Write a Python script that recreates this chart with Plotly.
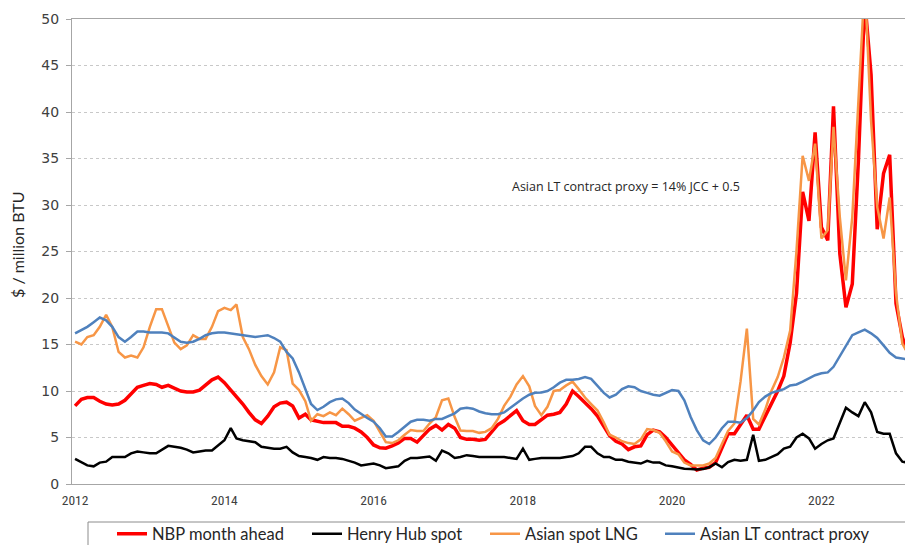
import pandas as pd
import plotly.graph_objects as go

months = pd.date_range("2012-01-01", periods=135, freq="MS")

nbp_month_ahead = [
    8.4, 9.1, 9.3, 9.3, 8.9, 8.6, 8.5, 8.6, 9.0, 9.7, 10.4, 10.6,
    10.8, 10.7, 10.4, 10.6, 10.3, 10.0, 9.9, 9.9, 10.1, 10.6, 11.2, 11.5,
    10.9, 10.1, 9.4, 8.6, 7.7, 6.9, 6.5, 7.3, 8.3, 8.7, 8.8, 8.4,
    7.1, 7.5, 6.9, 6.7, 6.6, 6.6, 6.6, 6.2, 6.2, 6.0, 5.6, 5.0,
    4.2, 3.9, 3.85, 4.1, 4.4, 4.9, 4.9, 4.5, 5.2, 5.9, 6.3, 5.8,
    6.4, 6.0, 5.0, 4.8, 4.8, 4.7, 4.8, 5.6, 6.4, 6.8, 7.3, 7.9,
    6.8, 6.4, 6.4, 6.9, 7.4, 7.5, 7.7, 8.6, 10.0, 9.4, 8.8, 8.1,
    7.3, 6.1, 5.2, 4.6, 4.3, 3.7, 4.0, 4.1, 5.3, 5.8, 5.6, 5.0,
    4.2, 3.3, 2.6, 2.1, 1.5, 1.7, 1.8, 2.3, 3.8, 5.4, 5.4, 6.4,
    7.4, 5.9, 5.9, 7.3, 8.6, 10.0, 11.6, 15.2, 20.5, 31.4, 28.3, 37.8,
    27.6, 26.2, 40.6, 24.75, 19.0, 21.5, 34.8, 52.0, 44.0, 27.4, 33.4, 35.4,
    19.4, 15.8, 14.0,
]

henry_hub_spot = [
    2.7, 2.3, 2.0, 1.9, 2.3, 2.4, 2.9, 2.9, 2.9, 3.3, 3.5, 3.4,
    3.3, 3.3, 3.7, 4.1, 4.0, 3.9, 3.7, 3.4, 3.5, 3.6, 3.6, 4.1,
    4.7, 6.0, 4.9, 4.7, 4.6, 4.5, 4.0, 3.9, 3.8, 3.8, 4.0, 3.4,
    3.0, 2.9, 2.8, 2.6, 2.9, 2.8, 2.8, 2.7, 2.5, 2.3, 2.0, 2.1,
    2.2, 2.0, 1.7, 1.8, 1.9, 2.5, 2.8, 2.8, 2.9, 2.95, 2.5, 3.6,
    3.3, 2.8, 2.9, 3.1, 3.0, 2.9, 2.9, 2.9, 2.9, 2.9, 2.8, 2.7,
    3.8, 2.6, 2.7, 2.8, 2.8, 2.8, 2.8, 2.9, 3.0, 3.3, 4.0, 4.0,
    3.3, 2.9, 2.9, 2.6, 2.6, 2.4, 2.3, 2.2, 2.5, 2.3, 2.3, 2.0,
    1.9, 1.75, 1.65, 1.6, 1.55, 1.6, 1.8, 2.2, 1.8, 2.35, 2.6, 2.5,
    2.6, 5.3, 2.5, 2.6, 2.9, 3.2, 3.8, 4.0, 5.0, 5.4, 4.9, 3.8,
    4.3, 4.7, 4.9, 6.5, 8.2, 7.7, 7.3, 8.8, 7.7, 5.6, 5.4, 5.4,
    3.3, 2.4, 2.3,
]

asian_spot_lng = [
    15.3, 15.0, 15.8, 16.0, 16.9, 18.2, 16.9, 14.2, 13.6, 13.8, 13.6, 14.7,
    16.9, 18.8, 18.8, 16.9, 15.2, 14.5, 14.9, 16.0, 15.6, 15.6, 16.9, 18.6,
    18.95, 18.7, 19.3, 15.8, 14.5, 12.8, 11.6, 10.7, 12.0, 14.7, 14.4, 10.8,
    10.1, 8.9, 6.8, 7.5, 7.3, 7.7, 7.4, 8.1, 7.5, 6.8, 7.1, 7.4,
    6.8, 5.6, 4.5, 4.4, 4.7, 5.3, 5.8, 5.7, 5.7, 6.5, 7.2, 9.0,
    9.2, 7.2, 5.75, 5.7, 5.7, 5.5, 5.6, 6.0, 7.0, 8.4, 9.4, 10.7,
    11.6, 10.5, 8.4, 7.4, 8.3, 10.0, 10.1, 10.6, 11.0, 10.2, 9.3, 8.6,
    7.9, 6.6, 5.3, 5.0, 4.6, 4.4, 4.3, 4.8, 5.9, 5.8, 5.5, 4.6,
    3.5, 3.2, 2.3, 2.0, 2.0, 2.0, 2.2, 2.8, 4.3, 5.7, 6.5, 11.0,
    16.7, 7.0, 6.4, 8.0, 10.0, 11.5, 13.6, 16.5, 25.1, 35.3, 32.6, 36.6,
    26.4, 27.3, 38.4, 28.7, 21.9, 28.7, 41.2, 54.0, 39.0, 29.8, 26.4, 30.8,
    20.5, 15.1, 14.0,
]

asian_lt_contract_proxy = [
    16.2, 16.6, 16.9, 17.4, 17.9, 17.6, 16.9, 15.8, 15.3, 15.8, 16.4, 16.4,
    16.3, 16.3, 16.3, 16.2, 15.8, 15.3, 15.2, 15.3, 15.6, 16.0, 16.2, 16.3,
    16.3, 16.2, 16.15, 16.0, 15.9, 15.8, 15.9, 16.0, 15.7, 15.3, 14.2, 13.5,
    12.0, 10.3, 8.6, 7.95, 8.3, 8.8, 9.1, 9.2, 8.7, 8.0, 7.5, 7.1,
    6.7, 6.0, 5.1, 5.1, 5.6, 6.2, 6.7, 6.9, 6.9, 6.8, 7.0, 7.0,
    7.3, 7.6, 8.1, 8.2, 8.1, 7.8, 7.6, 7.5, 7.5, 7.7, 8.2, 8.7,
    9.2, 9.6, 9.8, 9.85, 10.0, 10.4, 10.9, 11.2, 11.2, 11.3, 11.5, 11.3,
    10.6, 9.8, 9.3, 9.6, 10.2, 10.5, 10.4, 10.0, 9.8, 9.6, 9.5, 9.8,
    10.1, 10.0, 9.0, 7.2, 5.8, 4.7, 4.3, 5.0, 6.0, 6.7, 6.7, 6.6,
    7.1, 7.9, 8.8, 9.4, 9.8, 10.0, 10.2, 10.6, 10.7, 11.0, 11.4, 11.7,
    11.9, 12.0, 12.6, 13.7, 14.8, 16.0, 16.3, 16.6, 16.2, 15.7, 14.9, 14.1,
    13.6, 13.5, 13.4,
]

series_names = ["NBP month ahead", "Henry Hub spot", "Asian spot LNG", "Asian LT contract proxy"]
x_tick_years = ["2012", "2014", "2016", "2018", "2020", "2022"]
y_ticks = [0, 5, 10, 15, 20, 25, 30, 35, 40, 45, 50]

styles = [("#FF0000", 3.5), ("#000000", 2.5), ("#F79646", 2.5), ("#4F81BD", 2.5)]
values = [nbp_month_ahead, henry_hub_spot, asian_spot_lng, asian_lt_contract_proxy]
legend_ids = ["legend", "legend2", "legend3", "legend4"]
legend_text_px = [152, 347, 525, 700]

W, H = 905, 545
ml, mr, mt, mb = 72, 0, 19, 61
pw = W - ml - mr
ph = H - mt - mb


def px_x(p):
    return (p - ml) / pw


def px_y(p):
    return (H - mb - p) / ph


fig = go.Figure()
for name, vals, (color, width), lid in zip(series_names, values, styles, legend_ids):
    fig.add_trace(go.Scatter(x=months, y=vals, mode="lines", name=name, legend=lid,
                             line=dict(color=color, width=width)))

legend_font = dict(family="Lato, sans-serif", size=16.5, color="#262626")
legends = {}
for lid, tx in zip(legend_ids, legend_text_px):
    legends[lid] = dict(orientation="h", x=px_x(tx - 40), xanchor="left",
                        y=px_y(534), yanchor="middle", font=legend_font,
                        bgcolor="rgba(0,0,0,0)", borderwidth=0)

fig.update_layout(
    width=W, height=H,
    margin=dict(l=ml, r=mr, t=mt, b=mb, pad=0, autoexpand=False),
    paper_bgcolor="white", plot_bgcolor="white",
    showlegend=True,
    xaxis=dict(type="date", range=["2011-12-17", "2023-02-14"],
               tickvals=[pd.Timestamp(y + "-01-01") for y in x_tick_years],
               ticktext=x_tick_years,
               showgrid=False, zeroline=False,
               showline=True, linecolor="#A6A6A6", linewidth=1, mirror=True,
               ticks="", ticklabelstandoff=4, automargin=False,
               tickfont=dict(family="Liberation Sans Narrow, Roboto Condensed, Roboto, sans-serif",
                             size=13.5, color="#404040")),
    yaxis=dict(range=[0, 50], tickvals=y_ticks,
               showgrid=True, gridcolor="#C8C8C8", griddash="dot", gridwidth=1,
               zeroline=False, showline=True, linecolor="#A6A6A6", linewidth=1,
               ticks="outside", ticklen=5, tickcolor="#A6A6A6",
               ticklabelstandoff=4, automargin=False,
               tickfont=dict(family="DejaVu Sans, sans-serif", size=14, color="#404040")),
    **legends,
)

fig.add_annotation(text="$ / million BTU", xref="paper", yref="paper",
                   x=px_x(18), y=px_y(245), textangle=-90, showarrow=False,
                   xanchor="center", yanchor="middle",
                   font=dict(family="Lato, sans-serif", size=16, color="#262626"))
fig.add_annotation(text="Asian LT contract proxy = 14% JCC + 0.5", xref="paper", yref="y",
                   x=px_x(510), y=32, xanchor="left", yanchor="middle", showarrow=False,
                   font=dict(family="Open Sans, sans-serif", size=12.5, color="#262626"))

fig.add_shape(type="rect", xref="paper", yref="paper",
              x0=px_x(88), x1=1.1, y0=px_y(522), y1=px_y(600),
              line=dict(color="#8C8C8C", width=1), fillcolor="rgba(0,0,0,0)")

post = ("document.documentElement.style.margin='0';document.body.style.margin='0';"
        "document.body.style.overflow='hidden';"
        "var gd=document.getElementById('{plot_id}');"
        "gd.style.width='905px';gd.style.height='545px';"
        "Plotly.relayout(gd,{width:905,height:545});")

fig.write_html("out.html", post_script=post, config={"displayModeBar": False})
